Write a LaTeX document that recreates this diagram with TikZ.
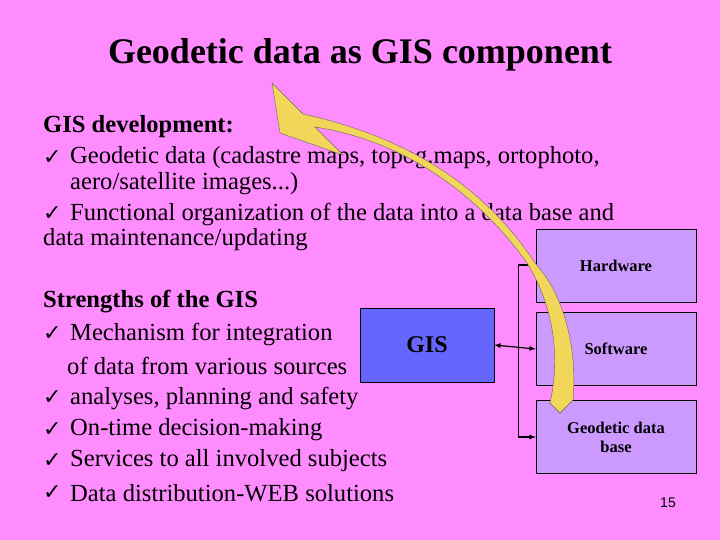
\documentclass[tikz,border=0pt]{standalone}
\usepackage{fontspec}
\setmainfont{Liberation Serif}
\newfontfamily\dvs{DejaVu Sans}
\newfontfamily\lsans{Liberation Sans}
\definecolor{bg}{HTML}{FF8CFF}
\definecolor{boxc}{HTML}{CC99FF}
\definecolor{gisc}{HTML}{6666FF}
\definecolor{arr}{HTML}{F2D65A}
\begin{document}
\begin{tikzpicture}[x=1pt,y=-1pt,
  txt/.style={anchor=west,inner sep=0,font=\fontsize{24.6}{27}\selectfont},
  chk/.style={anchor=west,inner sep=0,font=\dvs\fontsize{22}{24}\selectfont},
  sbox/.style={draw=black,fill=boxc,minimum width=160,minimum height=73,font=\bfseries\fontsize{16.5}{19}\selectfont,align=center},
  conn/.style={line width=1.2pt,-latex}]
\fill[bg] (0,0) rectangle (720,540);
\useasboundingbox (0,0) rectangle (720,540);
\node[font=\bfseries\fontsize{36}{40}\selectfont,inner sep=0] (title) at (360,55) {Geodetic data as GIS component};
\node[txt,font=\bfseries\fontsize{24.6}{27}\selectfont] (d0) at (43,127) {GIS development:};
\node[chk] (c1) at (43,158) {✓};
\node[txt] (d1) at (70,158) {Geodetic data (cadastre maps, topog.maps, ortophoto,};
\node[txt] (d2) at (70,184) {aero/satellite images...)};
\node[chk] (c3) at (43,214) {✓};
\node[txt] (d3) at (70,214) {Functional organization of the data into a data base and};
\node[txt] (d4) at (43,240) {data maintenance/updating};
\node[txt,font=\bfseries\fontsize{24.6}{27}\selectfont] (s0) at (43,302) {Strengths of the GIS};
\node[chk] (e1) at (43,334) {✓};
\node[txt] (s1) at (70,334) {Mechanism for integration};
\node[txt] (s2) at (67,366) {of data from various sources};
\node[chk] (e3) at (43,398) {✓};
\node[txt] (s3) at (70,398) {analyses, planning and safety};
\node[chk] (e4) at (43,430) {✓};
\node[txt] (s4) at (70,430) {On-time decision-making};
\node[chk] (e5) at (43,461) {✓};
\node[txt] (s5) at (70,461) {Services to all involved subjects};
\node[chk] (e6) at (43,493) {✓};
\node[txt] (s6) at (70,493) {Data distribution-WEB solutions};
\node[draw=black,fill=gisc,minimum width=134,minimum height=74,font=\bfseries\fontsize{24}{26}\selectfont] (gis) at (427,345) {GIS};
\node[sbox] (hw) at (616,265.5) {Hardware};
\node[sbox] (sw) at (616,349) {Software};
\node[sbox] (gd) at (616,437) {Geodetic data\\base};
\coordinate (jt) at (518,265);
\coordinate (jb) at (518,437);
\draw[line width=1.2pt,latex-latex] (gis.east) -- (sw.west);
\draw (jt) -- (jb);
\draw[conn] (jt) -- (hw.west |- jt);
\draw[conn] (jb) -- (gd.west |- jb);
\node[font=\lsans\fontsize{14}{16}\selectfont] (pg) at (668,503) {15};
\fill[arr,draw=black!60,line width=0.4] (272,83) -- (280,133) -- (343,155) -- (315,127)
  .. controls (400,140) and (475,190) .. (527,263)
  .. controls (550,300) and (562,350) .. (550,403)
  -- (560,413) -- (573,400)
  .. controls (578,340) and (560,290) .. (535,263)
  .. controls (490,195) and (420,140) .. (303,114) -- cycle;
\end{tikzpicture}
\end{document}
